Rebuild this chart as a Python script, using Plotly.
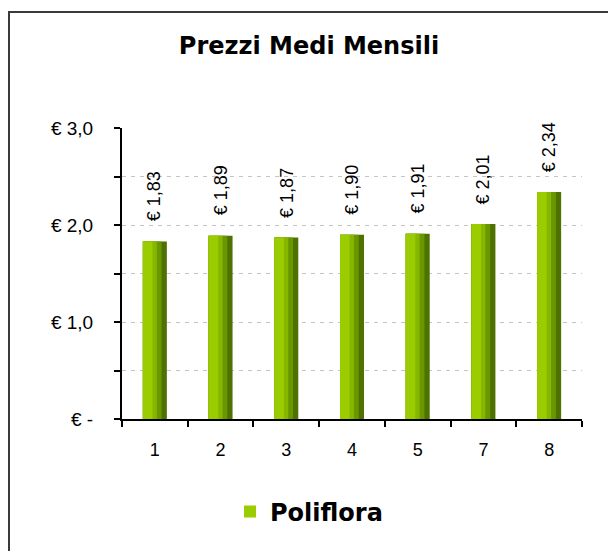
import plotly.graph_objects as go

# ---- data ----
categories = ["1", "2", "3", "4", "5", "7", "8"]
prices = [1.83, 1.89, 1.87, 1.90, 1.91, 2.01, 2.34]
series_name = "Poliflora"
y_tick_vals = [0, 1, 2, 3]
y_tick_text = ["€ -", "€ 1,0", "€ 2,0", "€ 3,0"]
title_text = "Prezzi Medi Mensili"

def fmt_eur(v):
    return "€ " + f"{v:.2f}".replace(".", ",")

label_text = [fmt_eur(v) for v in prices]

# ---- layout geometry (pixels) ----
W, H = 608, 551
L, R, T, B = 122, 26, 128, 132
pw, ph = W - L - R, H - T - B

def px_x(px):
    return (px - L) / pw

def px_y(py):
    return (H - B - py) / ph

BAR_W = 0.365
# gradient strips: (fraction of width from left edge, colour) drawn dark -> light
strips = [(1.00, "#4e7200"), (0.78, "#6a9700"), (0.58, "#86b700"), (0.40, "#9acc00")]

fig = go.Figure()
for i, (frac, col) in enumerate(strips):
    last = i == len(strips) - 1
    fig.add_trace(go.Bar(
        x=categories, y=prices,
        width=BAR_W * frac, offset=-BAR_W / 2,
        marker=dict(color=col, line=dict(width=0)),
        name=series_name, showlegend=last, hoverinfo="skip",
    ))

for idx, (v, t) in enumerate(zip(prices, label_text)):
    fig.add_annotation(x=idx, y=v, xref="x", yref="y", text=t, textangle=-90,
                       showarrow=False, yanchor="bottom", yshift=18,
                       font=dict(family="Liberation Sans, Arial", size=18, color="#000"))

fig.add_shape(type="rect", xref="paper", yref="paper",
              x0=px_x(9), x1=px_x(640), y0=px_y(580), y1=px_y(12),
              line=dict(color="#3a3a3a", width=2), fillcolor="rgba(0,0,0,0)", layer="below")

fig.update_layout(
    width=W, height=H,
    margin=dict(l=L, r=R, t=T, b=B, autoexpand=False),
    paper_bgcolor="white", plot_bgcolor="white",
    barmode="overlay",
    title=dict(text=title_text, x=309 / W, xanchor="center",
               y=1 - 46 / H, yanchor="middle",
               font=dict(family="DejaVu Sans", size=24, color="#000", weight="bold")),
    legend=dict(orientation="h", x=px_x(230), xanchor="left", y=px_y(512), yanchor="middle",
                font=dict(family="DejaVu Sans", size=24, color="#000", weight="bold"),
                bgcolor="rgba(0,0,0,0)"),
    font=dict(family="Liberation Sans, Arial", size=18, color="#000"),
)

fig.update_xaxes(
    type="category", range=[-0.5, len(categories) - 0.5],
    showline=True, linecolor="#000", linewidth=2,
    ticks="outside", ticklen=6, tickwidth=2, tickcolor="#000", tickson="boundaries",
    showgrid=False, ticklabelstandoff=13,
    tickfont=dict(family="Liberation Sans, Arial", size=18, color="#000"),
)
fig.update_yaxes(
    range=[0, 3], tickmode="array", tickvals=y_tick_vals, ticktext=y_tick_text,
    showline=True, linecolor="#000", linewidth=2,
    ticks="outside", ticklen=6, tickwidth=2, tickcolor="#000",
    showgrid=True, gridcolor="#c4c4c4", gridwidth=1, griddash="4px,5px",
    zeroline=False, ticklabelstandoff=17,
    minor=dict(dtick=0.5, ticks="outside", ticklen=6, tickwidth=2, tickcolor="#000",
               showgrid=True, gridcolor="#c4c4c4", griddash="4px,5px"),
    tickfont=dict(family="Liberation Sans, Arial", size=19, color="#000"),
)

fig.write_html("out.html", config={"displayModeBar": False},
               post_script="document.body.style.margin='0';")
